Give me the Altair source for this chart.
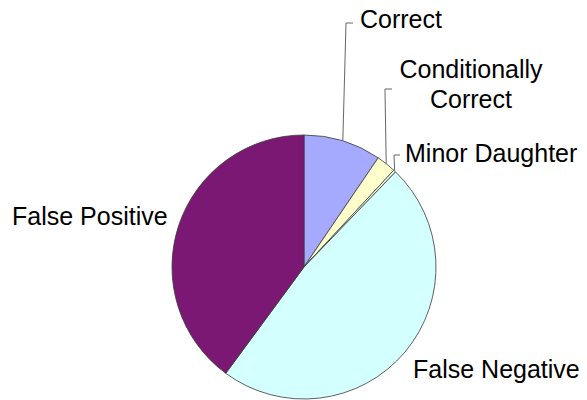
import altair as alt
import pandas as pd

# ---- data ----
labels = ["Correct", "Conditionally Correct", "Minor Daughter", "False Negative", "False Positive"]
values = [9.5, 2.4, 0.3, 47.9, 39.9]
colors = ["#A6AAFF", "#FFFFCC", "#FFFFEE", "#D4FFFF", "#7B1874"]

# ---- layout (chart pixel coordinates) ----
CX, CY, R = 296, 259, 132
FONT = "Liberation Sans"
FS = 25

# label anchors: x, y (baseline), align
text_pos = {
    "Correct": (352, 20, "left"),
    "Conditionally Correct": (463, 70, "center"),
    "Minor Daughter": (397, 154, "left"),
    "False Negative": (405, 370, "left"),
    "False Positive": (4, 217, "left"),
}
# leader lines: corner x, corner y, end of short horizontal tick
leaders = {
    "Correct": (338, 15, 345),
    "Conditionally Correct": (377, 81, 384),
    "Minor Daughter": (386, 147, 392),
}

df = pd.DataFrame({
    "label": labels,
    "value": values,
    "order": list(range(len(labels))),
})

color_scale = alt.Scale(domain=labels, range=colors)

pie = alt.Chart(df).mark_arc(
    radius=R, stroke="#3a3a3a", strokeWidth=0.8
).encode(
    theta=alt.Theta("value:Q", stack=True),
    order=alt.Order("order:Q"),
    color=alt.Color("label:N", scale=color_scale, legend=None),
    x=alt.value(CX),
    y=alt.value(CY),
)

ldf = pd.DataFrame({
    "label": list(leaders.keys()),
    "cx": [v[0] for v in leaders.values()],
    "cy": [v[1] for v in leaders.values()],
    "tx": [v[2] for v in leaders.values()],
})

base = alt.Chart(df).transform_window(
    cum="sum(value)", sort=[alt.SortField("order")], frame=[None, 0]
).transform_joinaggregate(
    total="sum(value)"
).transform_calculate(
    ang=f"2*PI*(datum.cum - datum.value/2)/datum.total"
).transform_calculate(
    px=f"{CX} + {R}*sin(datum.ang)",
    py=f"{CY} - {R}*cos(datum.ang)",
).transform_lookup(
    lookup="label", from_=alt.LookupData(ldf, "label", ["cx", "cy", "tx"])
).transform_filter("isValid(datum.cx)")

lead1 = base.mark_rule(color="#666666", strokeWidth=1).encode(
    x=alt.X("px:Q", scale=None, axis=None),
    y=alt.Y("py:Q", scale=None, axis=None),
    x2="cx:Q",
    y2="cy:Q",
)
lead2 = base.mark_rule(color="#666666", strokeWidth=1).encode(
    x=alt.X("cx:Q", scale=None, axis=None),
    y=alt.Y("cy:Q", scale=None, axis=None),
    x2="tx:Q",
    y2="cy:Q",
)

texts = []
for lab, (tx, ty, al) in text_pos.items():
    t = lab.replace("Conditionally Correct", "Conditionally\nCorrect")
    texts.append(
        alt.Chart(pd.DataFrame({"t": [t]})).mark_text(
            font=FONT, fontSize=FS, align=al, baseline="alphabetic",
            color="#000000", lineBreak="\n", lineHeight=30,
        ).encode(x=alt.value(tx), y=alt.value(ty), text="t:N")
    )

chart = alt.layer(pie, lead1, lead2, *texts).properties(
    width=571, height=392, autosize=alt.AutoSizeParams(type="none"), padding=0
).configure_view(stroke=None)

chart.save("out.html", embed_options={"renderer": "svg", "actions": False})
